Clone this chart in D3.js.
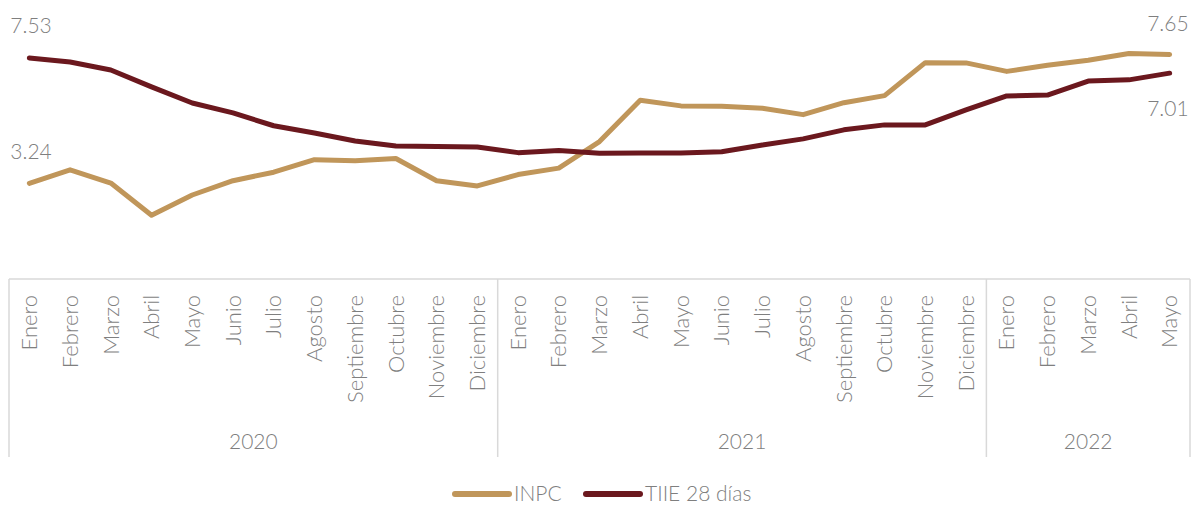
<!DOCTYPE html>
<html><head><meta charset="utf-8">
<script src="https://cdn.jsdelivr.net/npm/d3@7"></script>
<style>
html,body{margin:0;padding:0;background:#fff;}
text{font-family:"Lato","Open Sans",sans-serif;font-weight:300;fill:#7f7f7f;}
</style></head>
<body>
<svg id="c" width="1197" height="506"></svg>
<script>
const months = ["Enero","Febrero","Marzo","Abril","Mayo","Junio","Julio","Agosto","Septiembre","Octubre","Noviembre","Diciembre"];
const years = ["2020","2021","2022"];
const monthsPerYear = [12,12,5];
const inpc = [3.24,3.70,3.25,2.15,2.84,3.33,3.62,4.05,4.01,4.09,3.33,3.15,
              3.54,3.76,4.67,6.08,5.89,5.88,5.81,5.59,6.00,6.24,7.37,7.36,
              7.07,7.28,7.45,7.68,7.65];
const tiie = [7.53,7.39,7.12,6.54,5.99,5.65,5.21,4.96,4.69,4.52,4.50,4.48,
              4.29,4.36,4.27,4.28,4.28,4.32,4.55,4.76,5.07,5.24,5.24,5.75,
              6.23,6.26,6.74,6.78,7.01];
const seriesNames = ["INPC","TIIE 28 días"];
const colors = ["#c0965a","#6b181e"];

const cats = [];
years.forEach((y,i)=>{ for(let m=0;m<monthsPerYear[i];m++) cats.push({key:y+"-"+m, month:months[m], year:y}); });

const svg = d3.select("#c");
const x = d3.scaleBand().domain(cats.map(d=>d.key)).range([9,1190]).padding(0);
const y = d3.scaleLinear().domain([0,9]).range([278,15]);
const cx = k => x(k) + x.bandwidth()/2;
const axisY = 279, axisBottom = 457;
const grid = "#d9d9d9";

// axis top line
svg.append("line").attr("x1",x.range()[0]).attr("x2",x.range()[1]).attr("y1",axisY).attr("y2",axisY)
  .attr("stroke",grid).attr("stroke-width",1.5);

// group separators
let idx = 0;
const seps = [0];
monthsPerYear.forEach(n=>{ idx+=n; seps.push(idx); });
seps.forEach(i=>{
  const xv = i < cats.length ? x(cats[i].key) : x.range()[1];
  svg.append("line").attr("x1",xv).attr("x2",xv).attr("y1",axisY).attr("y2",axisBottom)
    .attr("stroke",grid).attr("stroke-width",1.5);
});

// month labels
svg.append("g").selectAll("text").data(cats).join("text")
  .attr("transform",d=>`translate(${cx(d.key)},${295}) rotate(-90)`)
  .attr("text-anchor","end").attr("dy","0.35em")
  .style("font-size","22px")
  .text(d=>d.month);

// year labels
years.forEach((yr,i)=>{
  const a = x(cats[seps[i]].key);
  const b = seps[i+1] < cats.length ? x(cats[seps[i+1]].key) : x.range()[1];
  svg.append("text").attr("x",(a+b)/2).attr("y",449).attr("text-anchor","middle")
    .style("font-size","21px").text(yr);
});

// lines
const line = d3.line().x((d,i)=>cx(cats[i].key)).y(d=>y(d));
[inpc,tiie].forEach((s,i)=>{
  svg.append("path").attr("d",line(s)).attr("fill","none").attr("stroke",colors[i])
    .attr("stroke-width",5).attr("stroke-linecap","round").attr("stroke-linejoin","round");
});

// data labels
const first = cats[0].key, last = cats[cats.length-1].key;
const fmt = d3.format(".2f");
svg.append("text").attr("x",cx(first)-19).attr("y",y(tiie[0])-25).style("font-size","21px").text(fmt(tiie[0]));
svg.append("text").attr("x",cx(first)-19).attr("y",y(inpc[0])-24).style("font-size","21px").text(fmt(inpc[0]));
svg.append("text").attr("x",cx(last)+19).attr("y",y(inpc[inpc.length-1])-23).attr("text-anchor","end").style("font-size","21px").text(fmt(inpc[inpc.length-1]));
svg.append("text").attr("x",cx(last)+19).attr("y",y(tiie[tiie.length-1])+43).attr("text-anchor","end").style("font-size","21px").text(fmt(tiie[tiie.length-1]));

// legend
const lg = svg.append("g");
const legX = [455,586];
seriesNames.forEach((n,i)=>{
  lg.append("line").attr("x1",legX[i]).attr("x2",legX[i]+54).attr("y1",494).attr("y2",494)
    .attr("stroke",colors[i]).attr("stroke-width",6).attr("stroke-linecap","round");
  lg.append("text").attr("x",legX[i]+59).attr("y",494).attr("dy","0.35em").style("font-size","21px").text(n);
});
</script>
</body></html>
